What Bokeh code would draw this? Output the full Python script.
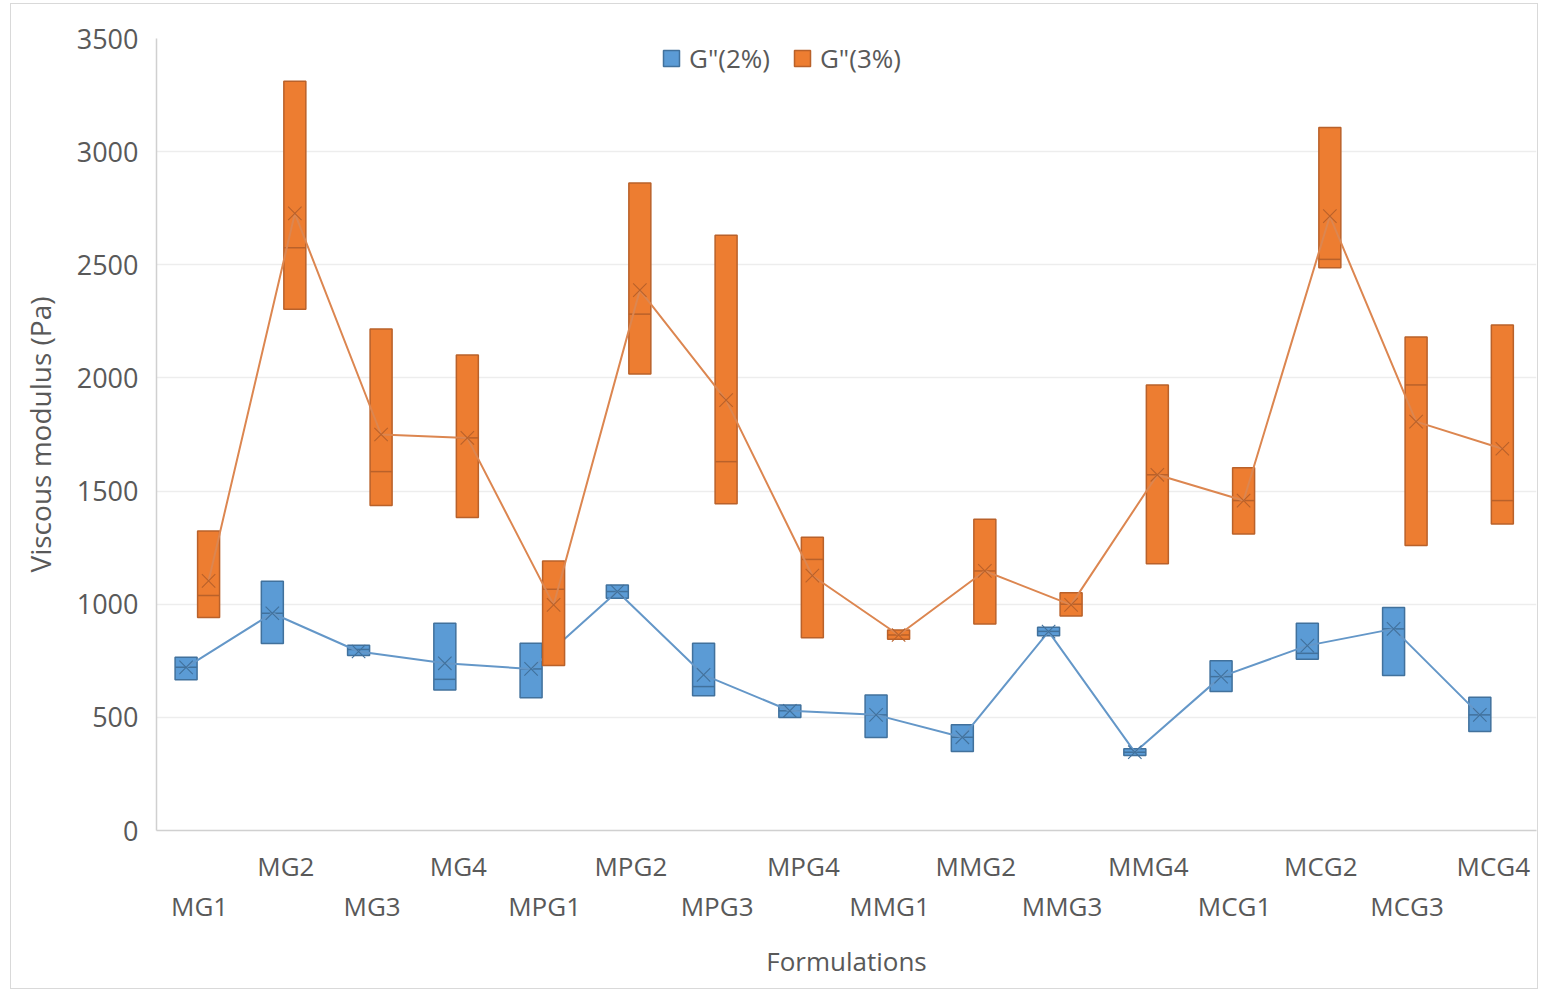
from bokeh.plotting import figure
from bokeh.models import (Range1d, FixedTicker, LinearAxis, Legend, LegendItem,
                          ColumnDataSource)
from bokeh.embed import file_html
from bokeh.resources import INLINE

# Formulations on the x axis
categories = ["MG1", "MG2", "MG3", "MG4", "MPG1", "MPG2", "MPG3", "MPG4",
              "MMG1", "MMG2", "MMG3", "MMG4", "MCG1", "MCG2", "MCG3", "MCG4"]

# G'' at 2 % (Pa): box bottom, box top, median, mean
g2_min = [666, 826, 773, 621, 587, 1026, 596, 499, 411, 349, 861, 331, 614, 757, 685, 437]
g2_max = [766, 1101, 819, 916, 827, 1085, 827, 555, 599, 467, 898, 361, 750, 916, 985, 589]
g2_median = [721, 960, 800, 668, 714, 1056, 636, 529, 511, 412, 880, 346, 680, 783, 891, 511]
g2_mean = [721, 960, 791, 739, 714, 1056, 688, 529, 511, 412, 879, 346, 680, 817, 891, 511]

# G'' at 3 % (Pa): box bottom, box top, median, mean
g3_min = [941, 2303, 1436, 1383, 729, 2017, 1444, 852, 845, 913, 948, 1179, 1310, 2487, 1259, 1355]
g3_max = [1324, 3311, 2216, 2101, 1191, 2861, 2631, 1296, 886, 1375, 1051, 1969, 1603, 3107, 2181, 2234]
g3_median = [1039, 2575, 1586, 1735, 1066, 2282, 1630, 1198, 864, 1147, 1000, 1572, 1458, 2524, 1969, 1458]
g3_mean = [1103, 2727, 1750, 1735, 997, 2388, 1902, 1126, 864, 1147, 997, 1572, 1458, 2715, 1807, 1687]

y_ticks = [0, 500, 1000, 1500, 2000, 2500, 3000, 3500]

FONT = "Open Sans"
TEXT = "#595959"
n = len(categories)
idx = list(range(n))

p = figure(width=1528, height=986,
           x_range=Range1d(-0.5, n - 0.5), y_range=Range1d(0, 3500),
           output_backend="svg", toolbar_location=None,
           min_border_left=145, min_border_right=3,
           min_border_top=34, min_border_bottom=160)
p.margin = (3, 0, 0, 10)
p.styles = {"border": "1px solid #D9D9D9"}
p.outline_line_color = None
p.background_fill_color = "white"

# y axis
yax = p.yaxis[0]
yax.ticker = FixedTicker(ticks=y_ticks)
yax.axis_line_color = "#D0D0D0"
yax.axis_line_width = 1.5
yax.major_tick_line_color = None
yax.minor_tick_line_color = None
yax.major_label_standoff = 12
yax.major_label_text_font = FONT
yax.major_label_text_font_size = "27px"
yax.major_label_text_color = TEXT
yax.axis_label = "Viscous modulus (Pa)"
yax.axis_label_text_font = FONT
yax.axis_label_text_font_size = "28px"
yax.axis_label_text_font_style = "normal"
yax.axis_label_text_color = TEXT
yax.axis_label_standoff = 15

p.ygrid.grid_line_color = "#EDEDED"
p.ygrid.grid_line_width = 1.5
p.xgrid.visible = False

# staggered category labels: odd positions on the upper row, even on the lower
odd = [i for i in idx if i % 2 == 1]
even = [i for i in idx if i % 2 == 0]

xa = p.xaxis[0]
xa.ticker = FixedTicker(ticks=odd)
xa.major_label_overrides = {i: categories[i] for i in odd}
xa.axis_line_color = "#D0D0D0"
xa.axis_line_width = 1.5
xa.major_tick_line_color = None
xa.minor_tick_line_color = None
xa.major_label_standoff = 11
xa.major_label_text_font = FONT
xa.major_label_text_font_size = "26px"
xa.major_label_text_color = TEXT

xb = LinearAxis(ticker=FixedTicker(ticks=even),
                major_label_overrides={i: categories[i] for i in even})
xb.axis_line_color = None
xb.major_tick_line_color = None
xb.minor_tick_line_color = None
xb.major_label_standoff = -5
xb.major_label_text_font = FONT
xb.major_label_text_font_size = "26px"
xb.major_label_text_color = TEXT
xb.axis_label = "Formulations"
xb.axis_label_text_font = FONT
xb.axis_label_text_font_size = "26px"
xb.axis_label_text_font_style = "normal"
xb.axis_label_text_color = TEXT
xb.axis_label_standoff = 16
p.add_layout(xb, "below")

BOX_W = 0.255


def draw_series(mins, maxs, meds, means, offset, fill, edge, line_col):
    xs = [i + offset for i in idx]
    src = ColumnDataSource(dict(
        x=xs,
        left=[x - BOX_W / 2 for x in xs],
        right=[x + BOX_W / 2 for x in xs],
        bottom=mins, top=maxs, med=meds, mean=means))
    box = p.quad(left="left", right="right", bottom="bottom", top="top",
                 source=src, fill_color=fill, line_color=edge, line_width=1.5)
    p.segment(x0="left", x1="right", y0="med", y1="med", source=src,
              line_color=edge, line_width=1.5)
    p.line("x", "mean", source=src, line_color=line_col, line_width=2)
    p.scatter("x", "mean", source=src, marker="x", size=19,
              line_color=edge, line_width=1.1)
    return box


box2 = draw_series(g2_min, g2_max, g2_median, g2_mean, -0.157,
                   "#5B9BD5", "#41719C", "#6497C8")
box3 = draw_series(g3_min, g3_max, g3_median, g3_mean, 0.104,
                   "#ED7D31", "#B9612A", "#DC8650")

legend = Legend(items=[LegendItem(label='G"(2%)', renderers=[box2]),
                       LegendItem(label='G"(3%)', renderers=[box3])],
                orientation="horizontal", location=(505, 754))
legend.border_line_color = None
legend.background_fill_alpha = 0
legend.label_text_font = FONT
legend.label_text_font_size = "26px"
legend.label_text_color = TEXT
legend.glyph_width = 20
legend.glyph_height = 20
legend.label_standoff = 8
legend.spacing = 22
legend.padding = 0
legend.margin = 0
p.add_layout(legend)

open("out.html", "w").write(file_html(p, INLINE))
